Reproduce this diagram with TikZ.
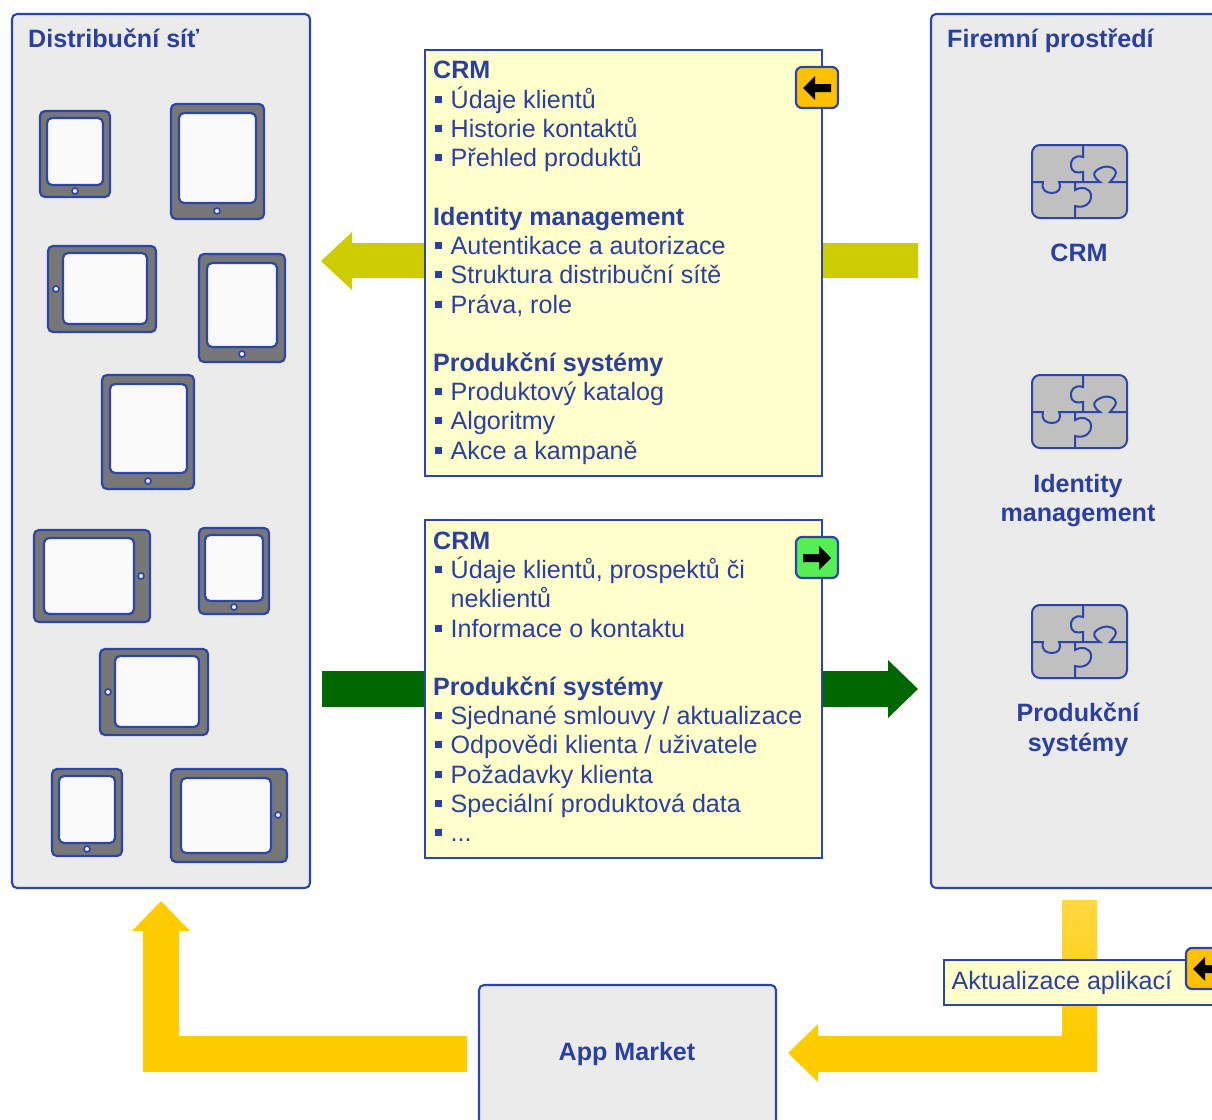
\documentclass[tikz,border=0pt]{standalone}
\usepackage{fontspec}
\setmainfont{Liberation Sans}
\definecolor{ln}{HTML}{2B45A8}
\definecolor{txt}{HTML}{2A3FA0}
\definecolor{panel}{HTML}{EBEBEB}
\definecolor{note}{HTML}{FFFFCC}
\definecolor{olive}{HTML}{CCCC00}
\definecolor{dgreen}{HTML}{006600}
\definecolor{gold}{HTML}{FFCC00}
\definecolor{goldl}{HTML}{FFD840}
\definecolor{tabgray}{HTML}{777777}
\definecolor{scr}{HTML}{FAFAFA}
\definecolor{pz}{HTML}{C0C0C0}
\definecolor{bamber}{HTML}{FFC000}
\definecolor{bgreen}{HTML}{55EE55}
\tikzset{
  x=1pt,y=-1pt,
  panelbox/.style={draw=ln,line width=2.1pt,fill=panel,rounded corners=5pt},
  notebox/.style={draw=ln,line width=2.1pt,fill=note},
  hd/.style={anchor=base west,inner sep=0pt,yshift=0.3pt,text=txt,font=\fontsize{25.1}{29}\selectfont\bfseries},
  it/.style={anchor=base west,inner sep=0pt,yshift=0.3pt,xshift=-0.5pt,text=txt,font=\fontsize{25.1}{29}\selectfont},
  ctr/.style={anchor=base,inner sep=0pt,yshift=0.3pt,text=txt,font=\fontsize{25.1}{29}\selectfont\bfseries},
  badge/.style={draw=ln,line width=2.2pt,rounded corners=6pt},
  tabbody/.style={draw=ln,line width=2.2pt,fill=tabgray,rounded corners=5pt},
  tabscreen/.style={draw=ln,line width=2.2pt,fill=scr,rounded corners=5pt},
  tabbtn/.style={draw=ln,line width=1.7pt,fill=scr},
  pzline/.style={draw=ln,line width=2pt},
}
\newcommand{\tablet}[8]{%
  \path[tabbody] (#1,#2) rectangle (#3,#4);
  \path[tabscreen] (#5,#6) rectangle (#7,#8);}
\newcommand{\tabbut}[2]{\path[tabbtn] (#1,#2) circle[radius=3pt];}
\newcommand{\puzzle}[2]{%
  \begin{scope}[shift={(#1,#2)}]
    \path[pzline,fill=pz,rounded corners=8pt] (0,0) rectangle (95,73);
    \path[pzline] (51,0) -- (51,12) .. controls (42,9) and (38,16) .. (39,21)
       .. controls (40,28) and (45,28) .. (51,27) -- (51,37);
    \path[pzline] (0,37) -- (11,37) .. controls (9,45) and (14,48) .. (20,48)
       .. controls (26,48) and (30,44) .. (27,37) -- (68,37)
       .. controls (62,33) and (60,28) .. (65,25) .. controls (72,20) and (80,21) .. (83,25)
       .. controls (86,29) and (81,33) .. (78,37) -- (95,37);
    \path[pzline] (43,37) -- (43,45) .. controls (50,41) and (58,43) .. (59,50)
       .. controls (60,58) and (52,64) .. (43,61) -- (43,73);
  \end{scope}}
\newcommand{\bul}[2]{\fill[txt] (#1,#2-13) rectangle (#1+7,#2-6);}
\begin{document}
\begin{tikzpicture}
\useasboundingbox (0,0) rectangle (1212,1119);
\clip (0,0) rectangle (1212,1119);
% panels
\path[panelbox] (12,14) rectangle (310,888);
\path[panelbox] (931,14) rectangle (1240,888);
\path[panelbox] (479,985) rectangle (776,1150);
\node[hd] (t1) at (28,48) {Distribuční síť};
\node[hd] (t2) at (947,48) {Firemní prostředí};
\node[ctr] (t3) at (627,1061) {App Market};
% block arrows
\fill[olive] (321,261) -- (352,232) -- (352,243) -- (430,243) -- (430,278) -- (352,278) -- (352,290) -- cycle;
\fill[olive] (818,243) rectangle (918,278);
\fill[dgreen] (322,671) rectangle (430,707);
\fill[dgreen] (818,671) -- (888,671) -- (888,660) -- (918,689) -- (888,718) -- (888,707) -- (818,707) -- cycle;
\fill[gold] (161,901) -- (190,931) -- (179,931) -- (179,1036) -- (467,1036) -- (467,1072) -- (143,1072) -- (143,931) -- (132,931) -- cycle;
\fill[gold] (788,1053) -- (818,1024) -- (818,1036) -- (1062,1036) -- (1062,960) -- (1097,960) -- (1097,1072) -- (818,1072) -- (818,1082) -- cycle;
\shade[top color=goldl,bottom color=gold] (1062,900) rectangle (1097,1036);
\fill[gold] (1062,1030) rectangle (1097,1072);
% tablets
\tablet{40}{111}{110}{197}{47}{118}{103}{185} \tabbut{75}{191}
\tablet{171}{104}{264}{219}{179}{113}{256}{203} \tabbut{217}{211}
\tablet{48}{246}{156}{332}{63}{253}{147}{324} \tabbut{56}{289}
\tablet{199}{254}{285}{362}{207}{263}{277}{347} \tabbut{242}{354}
\tablet{102}{375}{194}{489}{110}{384}{187}{473} \tabbut{148}{481}
\tablet{34}{530}{150}{622}{44}{538}{134}{614} \tabbut{141}{576}
\tablet{199}{528}{269}{614}{205}{535}{263}{601} \tabbut{234}{607}
\tablet{100}{649}{208}{735}{115}{656}{199}{727} \tabbut{108}{692}
\tablet{52}{769}{122}{856}{59}{776}{115}{843} \tabbut{87}{849}
\tablet{171}{769}{287}{862}{181}{778}{271}{853} \tabbut{278}{815}
% puzzles
\puzzle{1032}{145}
\puzzle{1032}{375}
\puzzle{1032}{605}
\node[ctr] (p1) at (1079,262) {CRM};
\node[ctr] (p2a) at (1078,493) {Identity};
\node[ctr] (p2b) at (1078,522) {management};
\node[ctr] (p3a) at (1078,722) {Produkční};
\node[ctr] (p3b) at (1078,752) {systémy};
% note 1
\path[notebox] (425,50) rectangle (822,476);
\node[hd] (a1) at (433,79) {CRM};
\bul{435}{109}\node[it] (a2) at (451,109) {Údaje klientů};
\bul{435}{138}\node[it] (a3) at (451,138) {Historie kontaktů};
\bul{435}{167}\node[it] (a4) at (451,167) {Přehled produktů};
\node[hd] (a5) at (433,226) {Identity management};
\bul{435}{255}\node[it] (a6) at (451,255) {Autentikace a autorizace};
\bul{435}{284}\node[it] (a7) at (451,284) {Struktura distribuční sítě};
\bul{435}{314}\node[it] (a8) at (451,314) {Práva, role};
\node[hd] (a9) at (433,372) {Produkční systémy};
\bul{435}{401}\node[it] (a10) at (451,401) {Produktový katalog};
\bul{435}{430}\node[it] (a11) at (451,430) {Algoritmy};
\bul{435}{460}\node[it] (a12) at (451,460) {Akce a kampaně};
% note 2
\path[notebox] (425,520) rectangle (822,858);
\node[hd] (b1) at (433,550) {CRM};
\bul{435}{579}\node[it] (b2) at (451,579) {Údaje klientů, prospektů či};
\node[it] (b3) at (451,608) {neklientů};
\bul{435}{638}\node[it] (b4) at (451,638) {Informace o kontaktu};
\node[hd] (b5) at (433,696) {Produkční systémy};
\bul{435}{725}\node[it] (b6) at (451,725) {Sjednané smlouvy / aktualizace};
\bul{435}{754}\node[it] (b7) at (451,754) {Odpovědi klienta / uživatele};
\bul{435}{784}\node[it] (b8) at (451,784) {Požadavky klienta};
\bul{435}{813}\node[it] (b9) at (451,813) {Speciální produktová data};
\bul{435}{842}\node[it] (b10) at (451,842) {...};
% update note
\path[notebox] (944,960) rectangle (1240,1005);
\node[it] (u1) at (952,990) {Aktualizace aplikací};
% badges
\path[badge,fill=bamber] (796,67) rectangle (838,108);
\fill (803,88) -- (815,76) -- (815,84) -- (831,84) -- (831,92) -- (815,92) -- (815,100) -- cycle;
\path[badge,fill=bgreen] (796,537) rectangle (838,578);
\fill (831,558) -- (819,546) -- (819,554) -- (803,554) -- (803,562) -- (819,562) -- (819,570) -- cycle;
\path[badge,fill=bamber] (1186,948) rectangle (1228,989);
\fill (1193,969) -- (1205,957) -- (1205,965) -- (1221,965) -- (1221,973) -- (1205,973) -- (1205,981) -- cycle;
\end{tikzpicture}
\end{document}
